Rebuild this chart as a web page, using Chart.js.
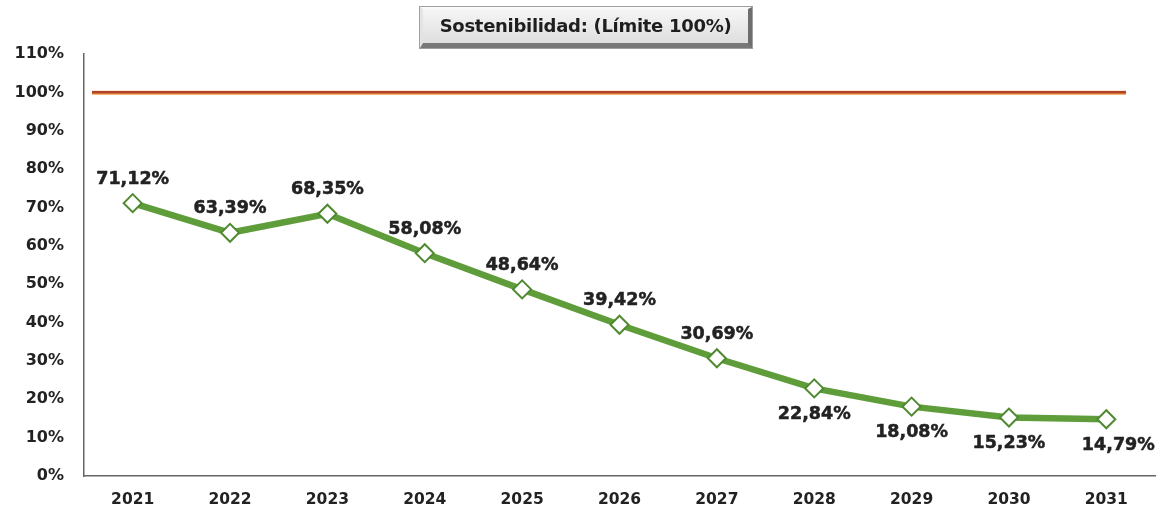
<!DOCTYPE html>
<html>
<head>
<meta charset="utf-8">
<script src="https://cdn.jsdelivr.net/npm/chart.js@4/dist/chart.umd.min.js"></script>
<style>
  html, body { margin: 0; padding: 0; background: #fff; }
  #wrap { position: relative; width: 1166px; height: 513px; }
  #title {
    position: absolute; left: 420px; top: 7px; width: 332px; height: 41px;
    box-sizing: border-box;
    background: linear-gradient(#f6f6f6, #dedede);
    border-top: 2px solid #fafafa; border-left: 3px solid #e4e4e4;
    border-right: 4px solid #6e6e6e; border-bottom: 5px solid #787878;
    box-shadow: 0 0 0 1px #a0a0a0;
    font: bold 18px "DejaVu Sans", sans-serif; color: #1e1e1e;
    text-align: center; line-height: 33px; letter-spacing: -0.3px;
  }
  canvas { position: absolute; left: 0; top: 0; }
</style>
</head>
<body>
<div id="wrap">
  <canvas id="c" width="1166" height="513"></canvas>
  <div id="title">Sostenibilidad: (Límite 100%)</div>
</div>
<script>
const years = ['2021', '2022', '2023', '2024', '2025', '2026', '2027', '2028', '2029', '2030', '2031'];
const ratio = [71.12, 63.39, 68.35, 58.08, 48.64, 39.42, 30.69, 22.84, 18.08, 15.23, 14.79];
const limit = 100;
const yTicks = [0, 10, 20, 30, 40, 50, 60, 70, 80, 90, 100, 110];

const fmt = v => v.toFixed(2).replace('.', ',') + '%';
const FONT = '"DejaVu Sans", sans-serif';

// red limit line at 100%
const limitLine = {
  id: 'limitLine',
  beforeDatasetsDraw(chart) {
    const { ctx, chartArea, scales } = chart;
    const y = scales.y.getPixelForValue(limit);
    ctx.save();
    ctx.strokeStyle = '#f0a040';
    ctx.lineWidth = 4;
    ctx.beginPath();
    ctx.moveTo(chartArea.left + 8, y + 0.5);
    ctx.lineTo(chartArea.right - 29, y + 0.5);
    ctx.stroke();
    ctx.strokeStyle = '#b0422e';
    ctx.lineWidth = 2.5;
    ctx.beginPath();
    ctx.moveTo(chartArea.left + 8, y);
    ctx.lineTo(chartArea.right - 29, y);
    ctx.stroke();
    ctx.restore();
  }
};

// value labels: above the points for the first years, below for the rest
const valueLabels = {
  id: 'valueLabels',
  afterDatasetsDraw(chart) {
    const { ctx } = chart;
    const meta = chart.getDatasetMeta(0);
    ctx.save();
    ctx.font = 'bold 17.5px ' + FONT;
    ctx.fillStyle = '#222';
    ctx.strokeStyle = '#222';
    ctx.lineWidth = 0.5;
    ctx.textAlign = 'center';
    ctx.textBaseline = 'middle';
    meta.data.forEach((pt, i) => {
      const below = i >= 7;
      const dx = i === years.length - 1 ? 12 : 0;
      const y = below ? pt.y + 26 : pt.y - 24;
      ctx.fillText(fmt(ratio[i]), pt.x + dx, y);
      ctx.strokeText(fmt(ratio[i]), pt.x + dx, y);
    });
    ctx.restore();
  }
};

new Chart(document.getElementById('c'), {
  type: 'line',
  data: {
    labels: years,
    datasets: [{
      data: ratio,
      borderColor: '#5e9d3a',
      borderWidth: 6.5,
      tension: 0,
      pointStyle: 'rectRot',
      pointRadius: 9,
      pointBorderWidth: 2,
      pointBackgroundColor: '#ffffff',
      pointBorderColor: '#4f8a30'
    }]
  },
  options: {
    responsive: false,
    animation: false,
    layout: { padding: { top: 54, right: 11, bottom: 0, left: 0 } },
    plugins: { legend: { display: false }, tooltip: { enabled: false } },
    scales: {
      x: {
        offset: true,
        afterFit: axis => { axis.height = 37; },
        grid: { display: false, drawTicks: false },
        border: { color: '#666', width: 1.5 },
        ticks: { padding: 15, color: '#222', font: { family: FONT, size: 15.5, weight: 'bold' } }
      },
      y: {
        min: 0,
        max: 110,
        afterFit: axis => { axis.width = 84; },
        afterBuildTicks: axis => { axis.ticks = yTicks.map(v => ({ value: v })); },
        grid: { display: false, drawTicks: false },
        border: { color: '#666', width: 1.5 },
        ticks: {
          padding: 20,
          color: '#222',
          font: { family: FONT, size: 16, weight: 'bold' },
          callback: v => v + '%'
        }
      }
    }
  },
  plugins: [limitLine, valueLabels]
});
</script>
</body>
</html>
